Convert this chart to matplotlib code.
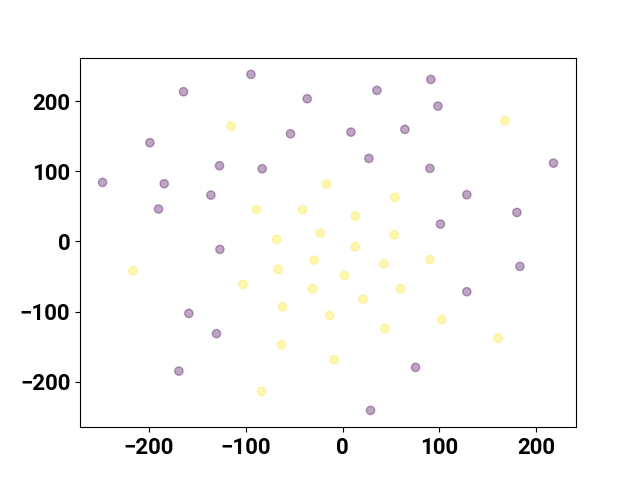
import numpy as np
import matplotlib
matplotlib.use("Agg")
import matplotlib.pyplot as plt

plt.rcParams['font.family'] = ['Roboto', 'DejaVu Sans']
plt.rcParams['font.weight'] = 'bold'
plt.rcParams['font.size'] = 16

# classe 0 (viola)
x0 = [-247.4, -189.7, -183.8, -198.6, -163.9, -94.4, -36.4, -53.6, -126.8, -82.8,
      -135.7, 91.1, 35.5, 98.4, 8.7, 64.3, 27.2, 90.1, 217.5, 128.2,
      179.8, 101.0, -126.4, -158.4, -129.9, -168.7, 182.9, 128.2, 75.3, 28.9]
y0 = [84.1, 46.2, 82.3, 140.7, 213.4, 238.1, 203.4, 153.5, 107.9, 103.6,
      66.0, 230.9, 215.3, 192.9, 155.8, 159.7, 118.3, 104.1, 111.6, 66.6,
      41.3, 24.7, -11.4, -102.6, -131.5, -184.9, -35.6, -71.7, -179.6, -240.9]

# classe 1 (giallo)
x1 = [-115.1, -88.7, -41.2, -16.5, -23.0, -68.0, 167.4, 54.0, 13.1, 53.3,
      -216.1, -66.3, -29.2, -102.7, -30.9, -61.9, -13.4, -62.9, -83.5, 13.1,
      42.7, 90.1, 2.1, 59.8, 21.0, 102.1, 43.7, 160.5, -8.6]
y1 = [164.4, 45.6, 45.2, 81.7, 11.8, 2.9, 172.1, 62.7, 36.1, 9.6,
      -41.8, -39.9, -26.7, -61.3, -67.4, -93.1, -105.5, -147.3, -213.8, -7.6,
      -31.8, -25.7, -48.5, -67.4, -82.3, -111.6, -124.0, -137.8, -168.6]

x = np.array(x0 + x1)
y = np.array(y0 + y1)
labels = np.array([0] * len(x0) + [1] * len(x1))

plt.figure(figsize=(6.4, 4.8), dpi=100)
plt.scatter(x, y, c=labels, cmap="viridis", alpha=0.35)
plt.savefig("out.png")
